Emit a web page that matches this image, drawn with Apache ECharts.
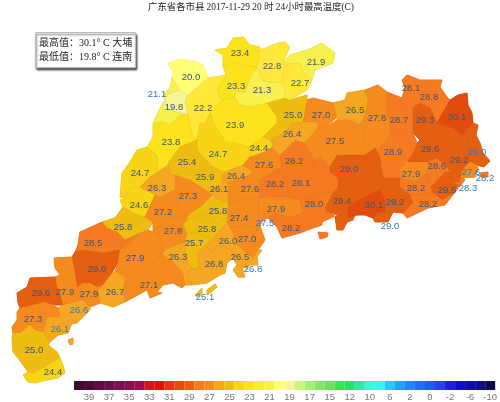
<!DOCTYPE html>
<html>
<head>
<meta charset="utf-8">
<style>html,body{margin:0;background:#fff}#main{width:500px;height:402px}</style>
<script src="https://cdn.jsdelivr.net/npm/echarts@6/dist/echarts.min.js"></script>
</head>
<body>
<div id="main"></div>
<script>
//county ids, one value per county
var countyNames = ["n01","n02","n03","n04","n05","n06","n07","n08","n09","n10","n11","n12","n13","n14","n15","n16","n17","n18","n19","n20",
    "n21","n22","n23","n24","n25","n26","n27","n28","n29","n30","n31","n32","n33","n34","n35","n36","n37","n38","n39","n40",
    "n41","n42","n43","n44","n45","n46","n47","n48","n49","n50","n51","n52","n53","n54","n55","n56","n57","n58","n59","n60",
    "n61","n62","n63","n64","n65","n66","n67","n68","n69","n70","n71","n72","n73","n74","n75","n76","n77","n78","n79"];
var countyValues = [20.0,21.1,19.8,22.2,23.8,24.7,24.6,25.8,28.5,29.0,27.9,27.1,26.7,27.9,27.9,29.6,26.6,27.3,26.1,25.0,
    24.4,23.4,21.3,23.3,23.9,24.4,24.7,25.4,25.9,26.3,27.3,27.2,27.8,26.4,26.1,27.6,27.6,28.2,28.2,26.4,
    25.0,22.7,22.8,21.9,27.0,26.5,27.5,27.8,28.7,28.1,28.8,29.3,30.1,29.6,29.2,29.0,27.6,28.2,29.5,28.3,
    28.6,27.9,28.2,28.2,28.9,29.0,29.4,30.1,29.2,29.0,28.1,27.9,28.2,28.0,27.4,25.8,25.8,25.7,26.3];
var extraNames = ["n80","n81","n82","n83","n84","n85"];
var extraValues = [27.5,27.0,26.0,26.5,26.8,26.8];
var islandNames = ["n86"];
var islandValues = [25.1];
//labels in blue, they sit on the coast
var blueLabels = ["n02","n17","n19","n56","n57","n58","n60","n70","n80","n84","n86"];
//legend
var bandColors = ["#3d0a30","#4c0b37","#5c0c40","#6c0e4a","#7a0f52","#8a1056","#a00f4c","#cc1a1e","#e01010","#e8321a","#e04c0e","#e45f11","#f57a22","#f58a1f","#f5a623","#efbc12","#f7d417","#fce31d","#ffe83a","#f8f04e","#ffff77",
    "#f5f59a","#c8f57a","#a5ef70","#85e56a","#70dd65","#40e050","#35d870","#35e5a5","#40f5d0","#40eef5","#30c5ee","#25a0f5","#2585f5","#2070e8","#1f5ee0","#2a40e8","#2020d8","#1010c8","#1010a0","#101080","#0a0a50"];
var bandMins = [40,39,38,37,36,35,34,33,32,31,30,29,28,27,26,25,24,23,22,21,20,19,18,17,16,15,14,12,11,10,8,6,4,2,1,0,-1,-2,-4,-6,-8,-10];
var legendTicks = ["39","37","35","33","31","29","27","25","23","21","19","17","15","12","10","6","2","0","-2","-6","-10"];
var chartTitle = "广东省各市县 2017-11-29 20 时 24小时最高温度(C)";
var extremeText = "最高值：30.1° C 大埔\n最低值：19.8° C 连南";

//base map in picture coordinates: label point, then outline (| starts a new ring)
var countyShapes = {
    n01:[191,77,"168,63 180,59 197,62 203,65 208,78 203,82 187,96 180,90 172,78 173,73"],
    n02:[157,94,"172,78 180,90 168,94 164,105 170,110 178,112 188,115 180,115 170,125 163,122 153,123 160,108 165,100 163,95 170,88"],
    n03:[174,107,"168,94 180,90 187,96 185,103 188,115 178,112 170,110 164,105"],
    n04:[203,108,"187,96 203,82 208,78 226,75 217,90 222,100 210,113 205,123 200,123 197,140 193,137 188,115 185,103"],
    n05:[171,142,"153,123 163,122 170,125 180,115 188,115 193,137 197,140 180,147 168,163 158,172 157,155 147,147 153,137"],
    n06:[140,173,"137,150 147,147 157,155 158,172 150,177 140,187 130,188 125,198 120,197 122,173 128,165"],
    n07:[139,205,"120,200 125,198 130,188 140,187 155,195 148,210 145,217 133,213 123,207"],
    n08:[123,227,"102,222 115,218 123,207 133,213 145,217 153,222 148,230 140,233 125,240 117,232 107,228"],
    n09:[93,243,"80,232 102,222 107,228 117,232 125,240 140,233 128,245 120,250 103,253 83,250 75,252 78,245"],
    n10:[97,269,"75,252 83,250 103,253 120,250 118,262 112,273 103,285 97,287 90,283 77,287 75,273 72,257"],
    n11:[135,258,"118,262 120,250 128,245 140,233 148,230 153,232 158,233 163,247 163,255 150,265 140,273 125,277 115,272"],
    n12:[149,285,"125,277 140,273 150,265 163,255 173,262 183,273 185,285 182,288 173,283 163,285 157,292 162,293 150,298 147,290 125,302 123,292"],
    n13:[115,292,"115,272 125,277 123,292 125,302 113,307 100,303 98,290 103,285 112,273"],
    n14:[89,294,"82,283 90,283 97,287 103,285 98,290 100,303 90,307 82,300 80,293"],
    n15:[65,292,"54,258 72,257 75,273 77,287 82,283 80,293 82,300 63,305 57,287 55,277 60,275 55,268"],
    n16:[41,293,"17,293 27,287 30,278 55,277 57,287 63,305 53,305 45,302 20,308 18,303"],
    n17:[79,310,"58,308 63,305 82,300 90,307 90,310 77,323 63,325 60,317"],
    n18:[33,319,"17,312 20,308 45,302 53,305 58,308 60,317 47,317 45,328 43,332 35,330 30,325 20,333 13,333 12,327 17,320"],
    n19:[60,329,"47,317 60,317 63,325 72,323 68,333 58,335 50,342 45,335 43,332 45,328|68,340 73,338 73,344 70,345"],
    n20:[34,350,"12,338 13,333 20,333 30,325 35,330 43,332 45,335 50,342 48,345 57,352 60,358 43,368 38,370 33,373 28,372 18,358 13,352"],
    n21:[53,372,"60,358 63,365 65,373 58,378 47,380 35,383 28,382 23,375 28,372 33,373 38,370 43,368"],
    n22:[240,53,"215,50 227,48 233,38 243,37 250,45 260,47 260,50 257,67 245,66 233,63 223,66 223,55"],
    n23:[262,90,"250,77 257,67 262,80 270,82 283,83 285,90 285,98 267,103 250,107 240,105 234,97 236,92 245,92"],
    n24:[236,86,"226,75 223,66 233,63 245,66 257,67 250,77 245,92 236,92 234,97 222,100 217,90"],
    n25:[235,125,"267,103 277,117 277,123 263,137 250,147 235,143 225,142 215,125 210,113 222,100 234,97 240,105 250,107"],
    n26:[259,148,"250,147 263,137 272,143 272,147 262,153 250,157 243,165 245,163 250,155"],
    n27:[218,154,"197,140 200,123 205,123 210,113 215,125 225,142 235,143 250,147 250,155 243,165 230,170 225,172 213,167 197,150"],
    n28:[187,162,"168,163 180,147 197,140 197,150 213,167 198,172 190,180 183,178 175,175 172,175 168,165"],
    n29:[205,177,"198,172 213,167 225,172 222,185 212,190 213,195 198,185 190,180"],
    n30:[157,188,"140,187 150,177 158,172 168,165 172,175 175,175 175,190 160,197 155,195"],
    n31:[188,196,"175,175 183,178 190,180 198,185 213,195 200,207 188,215 178,208 175,190"],
    n32:[163,212,"155,195 160,197 175,190 178,208 188,215 178,217 167,218 157,228 153,232 153,222 145,217 148,210"],
    n33:[173,231,"157,228 167,218 178,217 188,215 187,220 183,225 187,233 185,242 170,247 163,252 163,247 158,233 153,232"],
    n34:[236,176,"222,175 225,172 230,170 243,165 253,172 250,175 235,180 228,183"],
    n35:[219,189,"222,175 228,183 228,203 213,197 213,195 212,190 222,185"],
    n36:[250,189,"228,183 235,180 250,175 260,180 260,198 243,200 228,203"],
    n37:[264,165,"243,165 250,157 262,153 272,147 280,155 282,167 277,170 263,177 260,180 250,175 253,172"],
    n38:[275,184,"260,180 263,177 277,170 285,177 288,188 288,197 270,197 258,198 260,198"],
    n39:[294,161,"280,155 295,140 305,143 315,160 313,170 303,177 290,173 285,177 277,170 282,167"],
    n40:[292,134,"270,140 285,132 292,123 303,122 318,122 318,127 310,137 305,143 295,140 280,155 272,147 272,143"],
    n41:[293,115,"267,103 285,98 290,100 307,95 307,100 305,113 303,122 292,123 285,132 270,140 263,137 277,123 277,117"],
    n42:[300,83,"283,68 290,63 300,63 303,72 312,80 307,90 298,95 290,100 285,98 285,90 283,83"],
    n43:[272,66,"257,67 260,50 278,43 285,42 290,47 283,62 290,63 283,68 283,83 270,82 262,80"],
    n44:[316,62,"283,62 290,55 307,50 322,43 335,53 333,63 315,70 312,80 303,72 300,63 290,63"],
    n45:[321,115,"307,100 313,98 333,103 337,117 325,128 318,127 318,122 303,122 305,113"],
    n46:[355,110,"333,103 345,100 347,93 365,90 368,100 365,115 360,125 350,120 337,120 337,117"],
    n47:[335,141,"310,137 318,127 325,128 337,120 350,120 360,125 365,128 363,140 375,148 365,155 350,155 337,155 330,167 320,157 315,160 305,143"],
    n48:[377,118,"365,90 378,85 387,92 387,113 390,122 390,135 378,150 375,148 363,140 365,128 360,125 365,115 368,100"],
    n49:[399,120,"387,92 402,98 403,107 413,108 413,133 400,130 390,135 390,122 387,113"],
    n50:[411,88,"402,80 407,75 420,80 432,80 425,90 420,103 413,108 403,107 402,98 405,88"],
    n51:[429,97,"432,80 442,80 440,87 447,97 450,100 443,112 437,123 430,108 420,103 425,90"],
    n52:[425,120,"413,108 420,103 430,108 437,123 443,125 427,140 420,140 413,133"],
    n53:[457,117,"450,100 458,95 467,93 468,105 472,113 473,123 462,135 453,128 443,125 437,123 443,112"],
    n54:[430,149,"420,140 427,140 443,125 453,128 462,135 453,150 450,160 447,167 437,158 428,162 410,162 407,162 413,153 417,143"],
    n55:[459,160,"453,150 462,135 468,137 470,162 462,170 460,182 453,182 450,177 445,172 450,172 447,167 450,160"],
    n56:[477,152,"462,135 473,123 478,125 476,135 480,143 483,153 490,161 484,167 477,165 470,162 468,137"],
    n57:[471,172,"470,162 477,165 478,170 475,177 463,178 460,182 462,170"],
    n58:[485,178,"480,173 488,172 488,177 481,177"],
    n59:[447,190,"445,172 450,177 453,182 458,185 455,192 442,200 433,193 430,187"],
    n60:[468,188,"453,182 460,182 463,178 465,180 460,186 455,192 458,185"],
    n61:[437,166,"428,162 437,158 447,167 450,172 445,172 430,187 427,173 428,168"],
    n62:[411,174,"400,167 410,162 428,162 428,168 427,173 415,182 408,180 400,178"],
    n63:[416,188,"400,178 408,180 415,182 427,173 430,187 433,193 422,195 410,195 400,187"],
    n64:[428,204,"410,195 422,195 433,193 442,200 455,192 445,205 428,208 407,218 403,213 413,202"],
    n65:[393,152,"378,150 390,135 400,130 413,133 417,143 413,153 407,162 400,167 400,178 382,178 382,173 380,157 375,148"],
    n66:[349,169,"330,167 337,155 350,155 365,155 375,148 380,157 382,173 367,178 353,180 338,187 338,178 330,172"],
    n67:[342,201,"338,187 353,180 367,178 382,173 385,183 380,190 363,198 348,207 348,217 355,215 353,220 347,222 343,230 337,230 335,217 338,215 327,212 325,208 333,193"],
    n68:[374,205,"348,207 363,198 380,190 385,200 385,212 377,213 373,218 365,215 357,215 348,217"],
    n69:[395,202,"385,183 382,173 382,178 400,178 400,187 410,195 413,202 403,213 393,212 385,212 385,200 380,190"],
    n70:[390,226,"373,218 377,213 385,212 393,212 388,222 375,222"],
    n71:[301,183,"285,177 290,173 303,177 313,170 315,160 320,157 330,167 330,172 338,178 338,187 333,193 322,192 312,197 300,200 288,197 288,188"],
    n72:[276,209,"258,198 270,197 288,197 300,200 303,213 290,218 275,213 268,218 258,207"],
    n73:[291,228,"268,218 275,213 290,218 303,213 313,228 300,233 282,238 277,227"],
    n74:[314,204,"300,200 312,197 322,192 333,193 325,208 327,212 335,216 322,222 322,225 313,228 303,213|318,232 328,233 327,237 320,239"],
    n75:[239,218,"228,203 243,200 258,198 258,207 259,218 257,227 243,225 230,228 227,223"],
    n76:[218,211,"187,220 188,215 200,207 213,197 228,203 227,223 208,212"],
    n77:[207,229,"187,220 208,212 227,223 218,232 213,240 198,233 187,233 183,225"],
    n78:[194,243,"185,242 187,233 198,233 213,240 205,245 197,253 200,267 193,270 188,262 185,252"],
    n79:[178,257,"163,252 170,247 185,242 185,252 188,262 193,270 200,267 187,272 192,285 185,285 183,273 173,262 163,255"],
    n80:[265,223,"258,207 268,218 263,220 260,226 255,232 257,227 259,218"],
    n81:[247,239,"243,225 257,227 255,232 260,226 265,240 258,250 253,258 245,252 237,245 233,233 230,228"],
    n82:[228,241,"213,240 218,232 227,223 230,228 233,233 237,245 232,250 218,245 212,253 205,245"],
    n83:[240,257,"232,250 237,245 245,252 253,258 247,263 242,267 237,265 233,258"],
    n84:[253,269,"253,258 258,250 262,250 257,257 258,265 250,265 247,268 242,267 247,263|238,273 243,272 243,277 239,277"],
    n85:[214,264,"197,253 205,245 212,253 218,245 232,250 233,258 227,263 225,273 220,275 207,283 192,285 187,272 200,267|237,265 242,267 245,277 238,277 233,270"],
    n86:[205,297,"195,295 202,288 202,293 197,297|207,290 215,284 217,287 210,293 207,295"]
};

var allNames = countyNames.concat(extraNames, islandNames);
var allValues = countyValues.concat(extraValues, islandValues);

//拼接geojson
function buildGeoJson() {
    var features = allNames.map(function (name) {
        var shape = countyShapes[name];
        var rings = shape[2].split("|").map(function (ring) {
            var pts = ring.split(" ").map(function (p) { return p.split(",").map(Number); });
            pts.push(pts[0]);
            return [pts];
        });
        return {
            type: "Feature",
            properties: {name: name, cp: [shape[0], shape[1]]},
            geometry: {type: "MultiPolygon", coordinates: rings}
        };
    });
    return {type: "FeatureCollection", features: features};
}

var pieces = bandMins.map(function (min, i) {
    var piece = {gte: min, color: bandColors[i]};
    if (i > 0) piece.lt = bandMins[i - 1];
    return piece;
});

function bandColor(value) {
    for (var i = 0; i < bandMins.length; i++) {
        if (value >= bandMins[i]) return bandColors[i];
    }
    return bandColors[bandColors.length - 1];
}

var mapData = allNames.map(function (name, i) {
    return {
        name: name,
        value: allValues[i],
        label: {color: blueLabels.indexOf(name) >= 0 ? "#2f78bd" : "#37557a", textBorderWidth: 0, textBorderColor: "transparent"}
    };
});

//底层，盖住多边形之间的缝隙
var underData = allNames.map(function (name, i) {
    var c = bandColor(allValues[i]);
    return {name: name, value: allValues[i], itemStyle: {areaColor: c, borderColor: c, borderWidth: 1}};
});

var identity = {
    project: function (p) { return p; },
    unproject: function (p) { return p; }
};

echarts.registerMap("guangdong_base", buildGeoJson());
echarts.registerMap("guangdong", buildGeoJson());

var myChart = echarts.init(document.getElementById("main"), null, {renderer: "canvas"});
var option = {
    animation: false,
    backgroundColor: "#fff",
    title: [
        {
            text: chartTitle, left: 146, top: 1, padding: 2,
            textStyle: {fontSize: 9.4, fontWeight: "normal", color: "#222", fontFamily: "'Liberation Serif','Noto Sans CJK SC'"}
        },
        {
            text: extremeText, left: 35, top: 32, padding: [4, 4, 4, 4],
            backgroundColor: "#fff", borderColor: "#bbb", borderWidth: 1,
            shadowColor: "rgba(0,0,0,0.6)", shadowBlur: 2, shadowOffsetX: 1, shadowOffsetY: 2,
            textStyle: {fontSize: 10, lineHeight: 14, fontWeight: "normal", color: "#222", fontFamily: "'Liberation Serif','Noto Sans CJK SC'"}
        }
    ],
    visualMap: {type: "piecewise", show: false, seriesIndex: 1, pieces: pieces},
    grid: {left: 74, right: 3, top: 381, height: 9},
    xAxis: {
        type: "category",
        data: bandMins,
        axisLine: {show: false},
        axisTick: {show: false},
        axisLabel: {
            interval: 0, margin: 2, fontSize: 9.5, color: "#777", fontFamily: "'Liberation Sans'",
            formatter: function (v, i) { return i % 2 ? legendTicks[(i - 1) / 2] : ""; }
        }
    },
    yAxis: {type: "value", min: 0, max: 1, show: false},
    series: [
        {
            type: "map",
            map: "guangdong_base",
            left: 0, top: 0, width: 500, height: 402,
            boundingCoords: [[0, 0], [500, 402]],
            projection: identity,
            silent: true,
            label: {show: false},
            data: underData
        },
        {
            type: "map",
            map: "guangdong",
            left: 0, top: 0, width: 500, height: 402,
            boundingCoords: [[0, 0], [500, 402]],
            projection: identity,
            silent: true,
            label: {
                show: true, fontSize: 9.5, fontFamily: "'Liberation Sans'",
                formatter: function (p) { return p.value.toFixed(1); }
            },
            itemStyle: {borderColor: "rgba(120,90,40,0.15)", borderWidth: 0.4},
            data: mapData
        },
        {
            type: "bar",
            barWidth: "100%",
            silent: true,
            data: bandColors.map(function (c) { return {value: 1, itemStyle: {color: c}}; })
        }
    ]
};
myChart.setOption(option);
</script>
</body>
</html>
